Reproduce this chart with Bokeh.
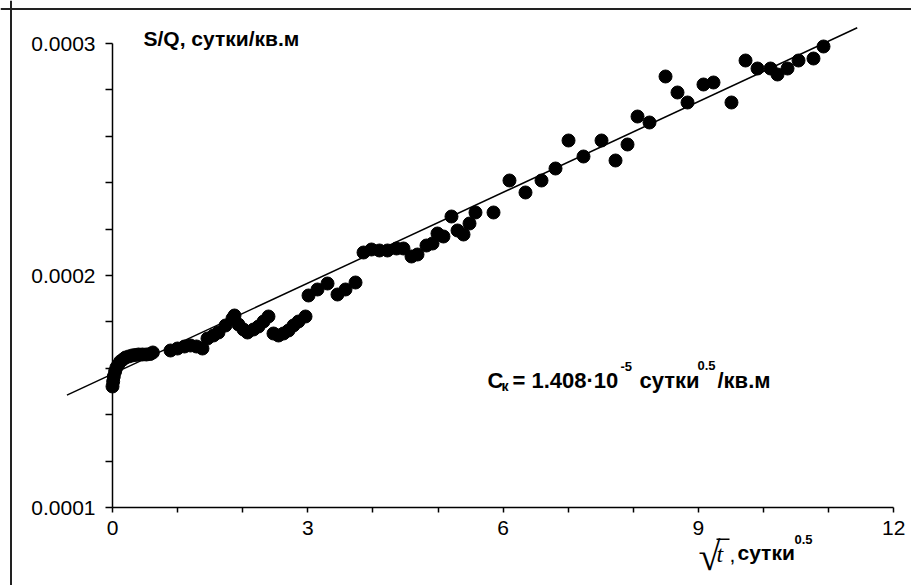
from bokeh.plotting import figure
from bokeh.models import (LinearAxis, FixedTicker, NumeralTickFormatter, Span, Label,
                          Range1d, BoxAnnotation, BasicTickFormatter)
from bokeh.embed import file_html
from bokeh.resources import INLINE

# ---- data ----
sqrt_t = [0.00, 0.01, 0.02, 0.04, 0.06, 0.09, 0.12, 0.16, 0.20, 0.25, 0.30, 0.35, 0.40, 0.46, 0.52, 0.58, 0.62,
          0.891, 0.998, 1.106, 1.198, 1.290, 1.382,
          1.459, 1.551, 1.628, 1.736, 1.843, 1.874,
          1.935, 2.012, 2.074,
          2.166, 2.243, 2.320, 2.396,
          2.473, 2.550, 2.627, 2.704, 2.780, 2.857, 2.965,
          3.011, 3.149, 3.303, 3.456, 3.579, 3.733, 3.856, 3.978, 4.101, 4.224, 4.363, 4.470,
          4.593, 4.685, 4.823, 4.916, 4.992, 5.084, 5.207, 5.300, 5.392, 5.484, 5.576, 5.853,
          6.098, 6.344, 6.590, 6.805, 7.005, 7.235, 7.512, 7.727, 7.911, 8.065, 8.249, 8.495,
          8.679, 8.833, 9.078, 9.232, 9.508, 9.724, 9.908, 10.108, 10.215, 10.369, 10.538,
          10.768, 10.922]
s_over_q = [1.5216, 1.5431, 1.5647, 1.5862, 1.6034, 1.6164, 1.6293, 1.6379, 1.6466, 1.6509, 1.6552, 1.6573,
            1.6595, 1.6595, 1.6595, 1.6616, 1.6681,
            1.6767, 1.6853, 1.6940, 1.6983, 1.6940, 1.6853,
            1.7284, 1.7414, 1.7543, 1.7845, 1.8147, 1.8276,
            1.7888, 1.7672, 1.7543,
            1.7672, 1.7802, 1.8017, 1.8233,
            1.7500, 1.7414, 1.7500, 1.7629, 1.7845, 1.8017, 1.8233,
            1.9138, 1.9397, 1.9655, 1.9181, 1.9397, 1.9698, 2.0991, 2.1121, 2.1078, 2.1078, 2.1164, 2.1164,
            2.0819, 2.0905, 2.1293, 2.1379, 2.1810, 2.1681, 2.2543, 2.1940, 2.1767, 2.2241, 2.2716, 2.2716,
            2.4095, 2.3578, 2.4095, 2.4612, 2.5819, 2.5129, 2.5819, 2.4957, 2.5647, 2.6853, 2.6595, 2.8578,
            2.7888, 2.7457, 2.8233, 2.8319, 2.7457, 2.9267, 2.8922, 2.8922, 2.8664, 2.8922, 2.9267,
            2.9353, 2.9871]
s_over_q = [v * 1e-4 for v in s_over_q]

fit_intercept = 1.5759e-4
fit_slope = 1.304e-5
fit_x = [-0.70, 11.44]
fit_y = [fit_intercept + fit_slope * v for v in fit_x]

x_ticks = [0, 3, 6, 9, 12]
x_minor = [1, 2, 4, 5, 7, 8, 10, 11]
y_ticks = [0.0001, 0.0002, 0.0003]
y_minor = [0.00012, 0.00014, 0.00016, 0.00018, 0.00022, 0.00024, 0.00026, 0.00028]

title_text = "S/Q, сутки/кв.м"

W, H = 911, 585
PX_X = 65.1      # pixels per unit of sqrt(t)
PX_Y = 232.0     # pixels per 0.0001
X0, Y0 = 112, 507
xs = -X0 / PX_X
xe = (W - X0) / PX_X
ys = 1e-4 - (H - Y0) / PX_Y * 1e-4
ye = 1e-4 + Y0 / PX_Y * 1e-4

p = figure(width=W, height=H, output_backend="svg", toolbar_location=None,
           x_axis_type=None, y_axis_type=None,
           x_range=Range1d(xs, xe), y_range=Range1d(ys, ye),
           min_border=0, min_border_left=0, min_border_right=0,
           min_border_top=0, min_border_bottom=0)
p.grid.visible = False
p.outline_line_color = None
p.background_fill_color = "white"
p.border_fill_color = "white"

tick_font = "Liberation Sans"

yaxis = LinearAxis(ticker=FixedTicker(ticks=y_ticks, minor_ticks=y_minor),
                   formatter=NumeralTickFormatter(format="0.0000"),
                   fixed_location=0, bounds=(0.0001, 0.0003))
yaxis.axis_line_width = 1.5
yaxis.major_tick_line_width = 1.5
yaxis.minor_tick_line_width = 1.5
yaxis.major_tick_out = 7
yaxis.major_tick_in = 0
yaxis.minor_tick_out = 7
yaxis.minor_tick_in = 0
yaxis.major_label_standoff = 10
yaxis.major_label_text_font = tick_font
yaxis.major_label_text_font_size = "21px"
yaxis.major_label_text_color = "black"
p.add_layout(yaxis, "left")

xaxis = LinearAxis(ticker=FixedTicker(ticks=x_ticks, minor_ticks=x_minor),
                   formatter=BasicTickFormatter(),
                   fixed_location=0.0001, bounds=(0, 12))
xaxis.axis_line_width = 1.5
xaxis.major_tick_line_width = 1.5
xaxis.minor_tick_line_width = 1.5
xaxis.major_tick_out = 5
xaxis.major_tick_in = 0
xaxis.minor_tick_out = 5
xaxis.minor_tick_in = 0
xaxis.major_label_standoff = 8
xaxis.major_label_text_font = tick_font
xaxis.major_label_text_font_size = "21px"
xaxis.major_label_text_color = "black"
p.add_layout(xaxis, "below")

# data
p.line(fit_x, fit_y, line_color="black", line_width=1.5)
p.scatter(sqrt_t, s_over_q, marker="circle", size=13, fill_color="black", line_color="black")

# outer border (left and top edges visible)
p.add_layout(Span(location=xs + 10.5 / PX_X, dimension="height", line_color="#222222", line_width=2))
p.add_layout(Span(location=ye - 8.5 / PX_Y * 1e-4, dimension="width", line_color="#222222", line_width=2))

def lab(txt, x, y_mid, size, style="bold", font="Liberation Sans", align="left"):
    p.add_layout(Label(x=x, y=H - y_mid, x_units="screen", y_units="screen", text=txt,
                       text_font=font, text_font_size=size, text_font_style=style,
                       text_color="black", text_baseline="middle", text_align=align))

lab(title_text, 143, 38, "21px")

# fitted coefficient annotation
lab("C", 487, 380, "22px")
lab("к", 501, 385, "14px")
lab("= 1.408·10", 512, 380, "22px")
lab("-5", 620, 366, "13px")
lab("сутки", 639, 380, "22px")
lab("0.5", 697, 365, "13px")
lab("/кв.м", 717, 380, "22px")

# x axis title: sqrt(t), сутки^0.5
lab("√", 698, 556, "40px", "normal", "Liberation Serif")
lab("t", 716, 553, "24px", "italic", "Liberation Serif")
lab(",", 729, 554, "21px", "normal")
lab("сутки", 737, 552, "21px")
lab("0.5", 794, 539, "13px")
p.add_layout(BoxAnnotation(left=716, right=729, top=H - 538, bottom=H - 539.5,
                           left_units="screen", right_units="screen",
                           top_units="screen", bottom_units="screen",
                           fill_color="black", fill_alpha=1, line_color=None))

open("out.html", "w").write(file_html(p, INLINE))
